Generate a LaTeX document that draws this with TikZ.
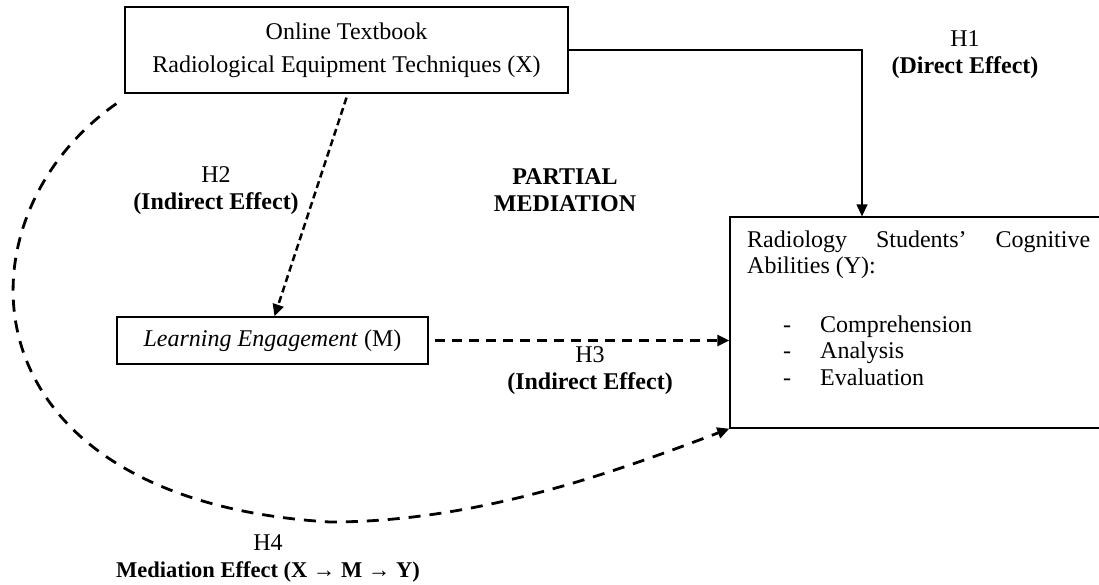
\documentclass[tikz,border=0pt]{standalone}
\usepackage{fontspec}
\setmainfont{Liberation Serif}
\usetikzlibrary{arrows.meta}

\begin{document}
\begin{tikzpicture}[x=1pt,y=-1pt,
		font=\fontsize{24}{27}\selectfont,
		box/.style={draw,line width=1.3pt,inner sep=0pt},
		lbl/.style={align=center,inner sep=0pt},
		zeile/.style={anchor=base west,inner sep=0pt},
		pfeil/.style={-{Triangle[length=12pt,width=11pt]}},
		gestrichelt/.style={pfeil,line width=2.8pt,dash pattern=on 10pt off 7pt}]
		\useasboundingbox (0,0) rectangle (1099,584);
		% Box X
		\node[box,minimum width=443pt,minimum height=86pt,align=center] (xbox) at (346.5,50) {Online Textbook\\[6pt]Radiological Equipment Techniques (X)};
		% Box M
		\node[box,minimum width=311pt,minimum height=47pt] (mbox) at (272.5,340.5) {\textit{Learning Engagement} (M)};
		% Box Y (rechter Rand ausserhalb)
		\node[box,minimum width=372pt,minimum height=211pt] (ybox) at (916,322.5) {};
		% Text in der Box Y
		\node[zeile] (yzeile1) at (747,247) {\makebox[343pt][s]{Radiology Students’ Cognitive}};
		\node[zeile] (yzeile2) at (747,273) {Abilities (Y):};
		\foreach \y/\n/\t in {332/1/Comprehension,358/2/Analysis,385/3/Evaluation}{
			\node[zeile] (strich\n) at (783,\y) {-};
			\node[zeile] (punkt\n) at (820,\y) {\t};
		}
		% H1 : direkter Pfeil
			\coordinate (h1knick) at (862,0);
		\draw[pfeil,line width=1.3pt] (xbox.east) -| (h1knick |- ybox.north);
		% H2 : X nach M
		\draw[gestrichelt,line width=2.5pt,dash pattern=on 7pt off 4pt] ([yshift=-4pt]xbox.south) -- ([xshift=2pt]mbox.north);
		% H3 : M nach Y
		\draw[gestrichelt] ([xshift=6pt]mbox.east) -- (mbox.east -| ybox.west);
		% H4 : Bogen X nach Y
		\draw[gestrichelt,dash pattern=on 12pt off 9pt] ([shift={(-8pt,-10pt)}]xbox.south west) .. controls (-50,220) and (-40,500) .. (330,522) .. controls (480,522) and (620,470) .. (ybox.south west);
		% Beschriftungen
		\node[lbl] (h1) at (965,55) {H1\\\textbf{(Direct Effect)}};
		\node[lbl] (h2) at (216,190.5) {H2\\\textbf{(Indirect Effect)}};
		\node[lbl] (partial) at (565,190.5) {\textbf{PARTIAL}\\\textbf{MEDIATION}};
		\node[lbl] (h3) at (590,371) {H3\\\textbf{(Indirect Effect)}};
		\node[lbl] (h4) at (268,558) {H4\\\fontsize{22.5}{27}\selectfont\textbf{Mediation Effect (X → M → Y)}};
	\end{tikzpicture}
\end{document}
